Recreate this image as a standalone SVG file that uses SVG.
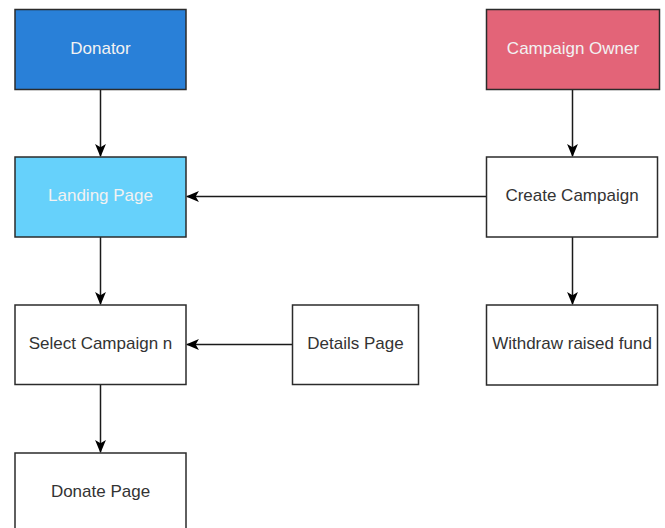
<svg xmlns="http://www.w3.org/2000/svg" width="665" height="528" viewBox="0 0 665 528">
  <style>
    .box { stroke: #2b2b2b; stroke-width: 1.5; }
    .plain { fill: #ffffff; }
    .lbl { font-family: "Liberation Sans", Arial, sans-serif; font-size: 17px; text-anchor: middle; dominant-baseline: central; }
    .dark { fill: #333333; }
    .light { fill: #f2f2f2; }
    .edge { stroke: #1a1a1a; stroke-width: 1.5; fill: none; marker-end: url(#arrow); }
  </style>
  <defs>
    <marker id="arrow" viewBox="0 0 12 10" refX="11" refY="5" markerWidth="13" markerHeight="11" markerUnits="userSpaceOnUse" orient="auto">
      <path d="M0,0 L12,5 L0,10 L3,5 Z" fill="#000000"/>
    </marker>
  </defs>
  <rect width="665" height="528" fill="#ffffff"/>

  <g id="connectors">
    <path class="edge" d="M100.5,89.5 V156"/>
    <path class="edge" d="M572.5,89.5 V156"/>
    <path class="edge" d="M486.5,196.5 H187"/>
    <path class="edge" d="M100.5,237 V304"/>
    <path class="edge" d="M572.5,237 V304"/>
    <path class="edge" d="M292.5,344.5 H187"/>
    <path class="edge" d="M100.5,385 V452"/>
  </g>

  <g id="donator">
    <rect class="box" x="15" y="9.5" width="171" height="80" fill="#2980d8"/>
    <text class="lbl light" x="100.5" y="48">Donator</text>
  </g>
  <g id="campaign-owner">
    <rect class="box" x="486.5" y="9.5" width="173" height="80" fill="#e36478"/>
    <text class="lbl light" x="573" y="48">Campaign Owner</text>
  </g>
  <g id="landing-page">
    <rect class="box" x="15" y="157" width="171" height="80" fill="#66d1fb"/>
    <text class="lbl light" x="100.5" y="195.5">Landing Page</text>
  </g>
  <g id="create-campaign">
    <rect class="box plain" x="486.5" y="157" width="171" height="80"/>
    <text class="lbl dark" x="572" y="195.5">Create Campaign</text>
  </g>
  <g id="select-campaign">
    <rect class="box plain" x="15" y="305" width="171" height="79.5"/>
    <text class="lbl dark" x="100.5" y="343.5">Select Campaign n</text>
  </g>
  <g id="details-page">
    <rect class="box plain" x="292.5" y="305" width="126" height="79.5"/>
    <text class="lbl dark" x="355.5" y="343.5">Details Page</text>
  </g>
  <g id="withdraw">
    <rect class="box plain" x="486.5" y="305" width="171" height="80"/>
    <text class="lbl dark" x="572" y="343.5">Withdraw raised fund</text>
  </g>
  <g id="donate-page">
    <rect class="box plain" x="15" y="453" width="171" height="80"/>
    <text class="lbl dark" x="100.5" y="491.5">Donate Page</text>
  </g>
</svg>
